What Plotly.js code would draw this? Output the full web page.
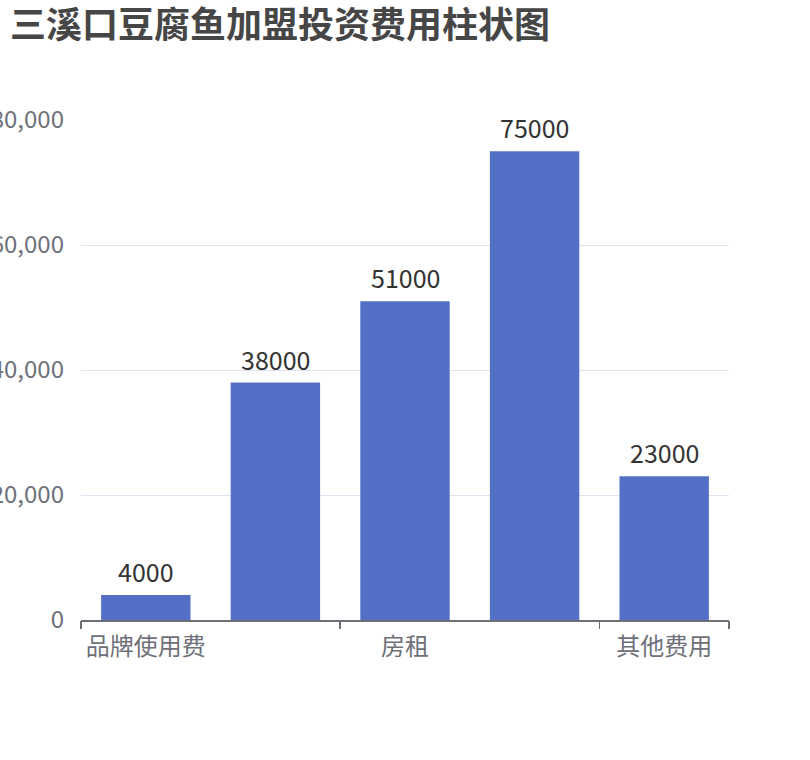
<!DOCTYPE html>
<html>
<head>
<meta charset="utf-8">
<script src="https://cdn.plot.ly/plotly-3.0.1.min.js"></script>
<style>
  html, body { margin: 0; padding: 0; background: #fff; }
  #chart { width: 810px; height: 760px; }
</style>
</head>
<body>
<div id="chart"></div>
<script>
// 费用类别与金额（元）
var categories = ['品牌使用费', '加盟费', '房租', '装修费', '其他费用'];
var costs = [4000, 38000, 51000, 75000, 23000];
var shownLabels = ['品牌使用费', '房租', '其他费用'];
var yTicks = [0, 20000, 40000, 60000, 80000];

var font = '"Noto Sans CJK SC", "Noto Sans", sans-serif';

// boundaries between categories, every other one like the source chart
var boundaryTicks = [];
for (var i = 0; i <= categories.length; i += 2) boundaryTicks.push(i - 0.5);
if (boundaryTicks[boundaryTicks.length - 1] !== categories.length - 0.5) {
  boundaryTicks.push(categories.length - 0.5);
}

var bars = {
  type: 'bar',
  x: categories,
  y: costs,
  marker: { color: '#5470c6' },
  hoverinfo: 'x+y'
};

// invisible trace so the tick-only axis exists
var tickHelper = {
  type: 'scatter',
  x: [-0.5, categories.length - 0.5],
  y: [0, 0],
  xaxis: 'x2',
  mode: 'none',
  hoverinfo: 'skip',
  showlegend: false
};

// value labels above each bar
var labels = categories.map(function (c, k) {
  return {
    x: c,
    y: costs[k],
    xref: 'x',
    yref: 'y',
    text: String(costs[k]),
    showarrow: false,
    yanchor: 'bottom',
    yshift: 4,
    font: { family: font, size: 25, color: '#333333' }
  };
});

var layout = {
  width: 810,
  height: 760,
  margin: { l: 81, r: 81, t: 120, b: 140 },
  paper_bgcolor: '#ffffff',
  plot_bgcolor: '#ffffff',
  showlegend: false,
  bargap: 0.31,
  annotations: labels,
  title: {
    text: '<b>三溪口豆腐鱼加盟投资费用柱状图</b>',
    font: { family: font, size: 36, color: '#464646' },
    xref: 'container',
    yref: 'container',
    x: 10 / 810,
    xanchor: 'left',
    y: 1 - 25 / 760,
    yanchor: 'middle'
  },
  xaxis: {
    type: 'category',
    tickvals: shownLabels,
    ticktext: shownLabels,
    ticks: '',
    showline: true,
    linecolor: '#6e7079',
    linewidth: 1.5,
    showgrid: false,
    zeroline: false,
    tickfont: { family: font, size: 24, color: '#6e7079' },
    ticklabelstandoff: 5
  },
  xaxis2: {
    overlaying: 'x',
    anchor: 'y',
    side: 'bottom',
    range: [-0.5, categories.length - 0.5],
    tickvals: boundaryTicks,
    ticks: 'outside',
    ticklen: 8,
    tickwidth: 1.5,
    tickcolor: '#6e7079',
    showticklabels: false,
    showgrid: false,
    zeroline: false,
    showline: false
  },
  yaxis: {
    range: [0, 80000],
    tickvals: yTicks,
    tickformat: ',d',
    showgrid: true,
    gridcolor: '#dde3f0',
    gridwidth: 1,
    zeroline: false,
    showline: false,
    ticks: '',
    ticklabelstandoff: 16,
    tickfont: { family: font, size: 24, color: '#6e7079' }
  }
};

Plotly.newPlot('chart', [bars, tickHelper], layout, { displayModeBar: false, staticPlot: true });
</script>
</body>
</html>
